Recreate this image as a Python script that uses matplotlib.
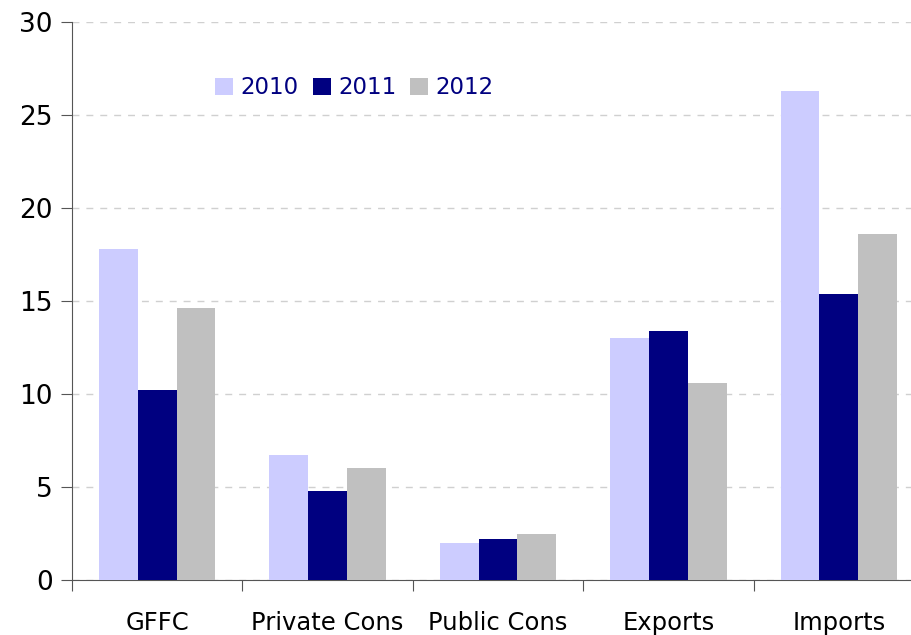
import matplotlib
matplotlib.use('Agg')
import matplotlib.pyplot as plt
import numpy as np

categories = ['GFFC', 'Private Cons', 'Public Cons', 'Exports', 'Imports']
years = ['2010', '2011', '2012']
vals_2010 = [17.8, 6.7, 2.0, 13.0, 26.3]
vals_2011 = [10.2, 4.8, 2.2, 13.4, 15.4]
vals_2012 = [14.6, 6.0, 2.5, 10.6, 18.6]
colours = ['#CCCCFF', '#000080', '#C0C0C0']

plt.rcParams['font.family'] = ['DejaVu Sans']

fig = plt.figure(figsize=(9.11, 6.35), dpi=100)
ax = fig.add_axes([72/911, 55/635, 852/911, 558/635])

x = np.arange(len(categories))
w = 0.228
for i, (vals, c, lab) in enumerate(zip([vals_2010, vals_2011, vals_2012], colours, years)):
    ax.bar(x + (i - 1) * w, vals, width=w, color=c, label=lab, zorder=3)

ax.set_xlim(-0.5, len(categories) - 0.5)
ax.set_ylim(0, 30)
ax.set_yticks(range(0, 31, 5))
ax.yaxis.grid(True, color='#D0D0D0', linestyle=(0, (5, 5)), linewidth=1, zorder=0)
ax.set_axisbelow(True)

# category ticks sit between groups, labels at the centres
ax.set_xticks(np.arange(-0.5, len(categories), 1))
ax.set_xticklabels([])
ax.set_xticks(x, minor=True)
ax.set_xticklabels(categories, minor=True, fontsize=17.5)
ax.tick_params(axis='x', which='minor', length=0, pad=22)
ax.tick_params(axis='x', which='major', length=8, color='#555555', direction='out')
ax.tick_params(axis='y', length=8, color='#555555', labelsize=19, pad=6)

for s in ['top', 'right']:
    ax.spines[s].set_visible(False)
for s in ['left', 'bottom']:
    ax.spines[s].set_color('#555555')

leg = ax.legend(loc='upper left', bbox_to_anchor=(0.144, 0.94), ncol=3, frameon=False,
                fontsize=16.5, handlelength=0.78, handleheight=0.78, handletextpad=0.33,
                columnspacing=0.6)
for t in leg.get_texts():
    t.set_color('#000080')

fig.savefig('out.png', dpi=100)
